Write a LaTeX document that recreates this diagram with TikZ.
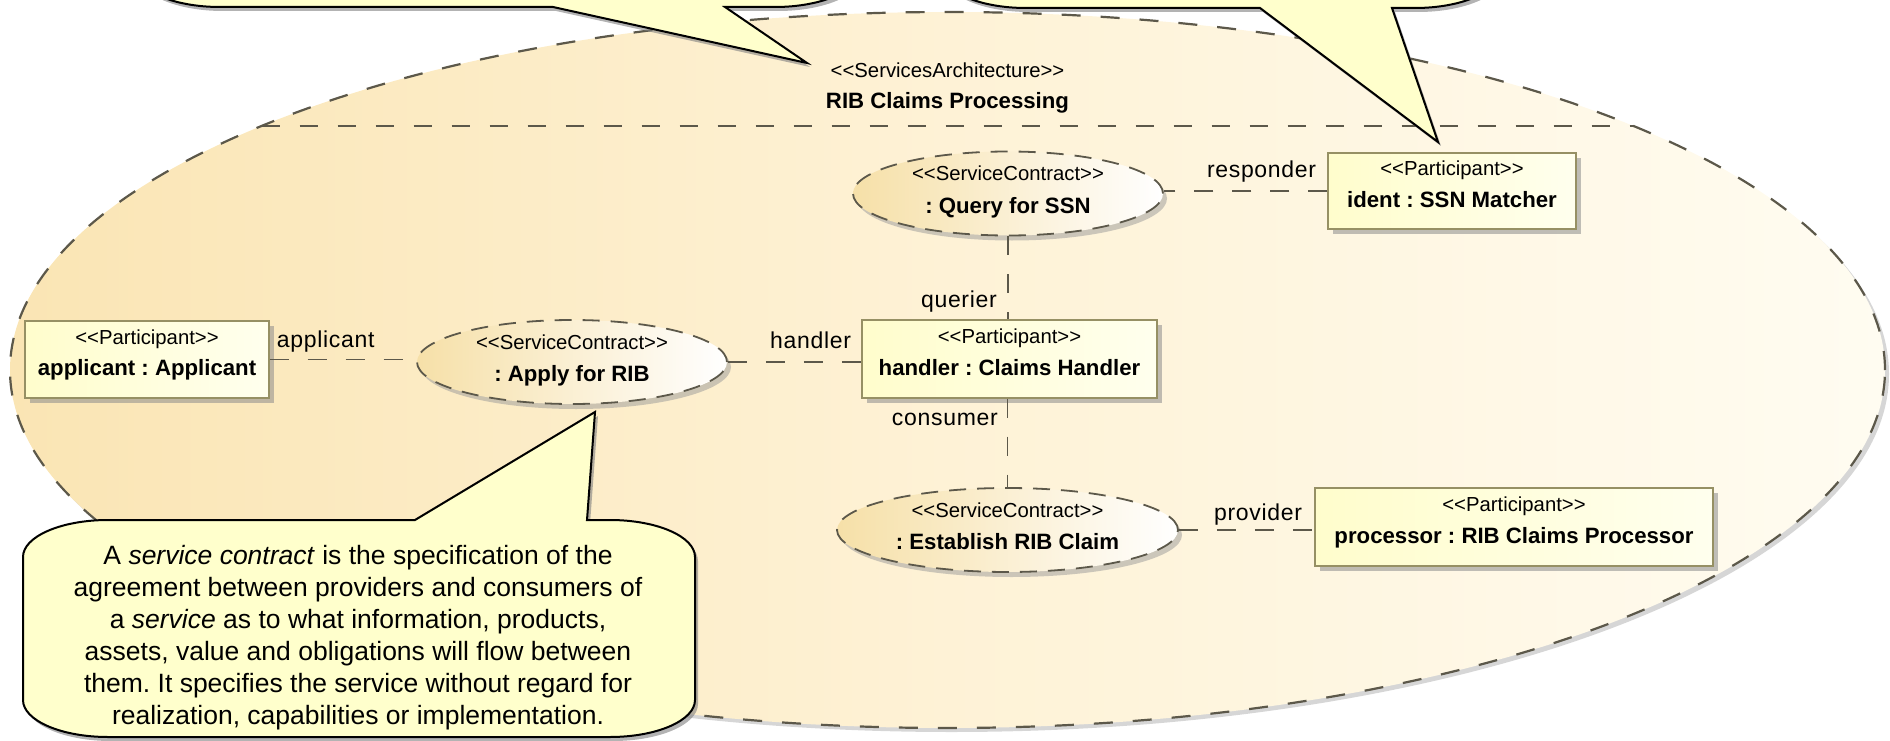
\documentclass[tikz,border=0pt]{standalone}
\usepackage{fontspec}
\usetikzlibrary{shapes.geometric,shadows,calc}
\newfontfamily\arial{Liberation Sans}
\newfontfamily\rolefont[LetterSpace=3]{Liberation Sans}
\frenchspacing

\definecolor{archL}{RGB}{250,229,180}
\definecolor{archM}{RGB}{254,242,214}
\definecolor{archR}{RGB}{255,252,241}
\definecolor{dashgray}{RGB}{92,88,74}
\definecolor{scL}{RGB}{246,224,168}
\definecolor{boxL}{RGB}{255,253,204}
\definecolor{boxR}{RGB}{255,255,238}
\definecolor{boxline}{RGB}{150,144,100}
\definecolor{notefill}{RGB}{255,255,204}

\tikzset{
  arch/.style={ellipse, inner sep=0pt, minimum width=1875pt, minimum height=716pt,
    left color=archL, right color=archR, middle color=archM,
    draw=dashgray, line width=2.2pt, dash pattern=on 19pt off 20pt,
    drop shadow={shadow xshift=4pt, shadow yshift=-4pt, fill=black!40, opacity=.4}},
  divider/.style={draw=dashgray, line width=2.2pt, dash pattern=on 18pt off 20pt},
  contract/.style={ellipse, inner sep=0pt, minimum width=310pt, minimum height=84pt,
    left color=scL, right color=white,
    draw=dashgray, line width=1.8pt, dash pattern=on 17pt off 11pt,
    drop shadow={shadow xshift=4pt, shadow yshift=-5pt, fill=black!40, opacity=.5}},
  part/.style={rectangle, inner sep=0pt, draw=boxline, line width=1.4pt,
    left color=boxL, right color=boxR,
    drop shadow={shadow xshift=5pt, shadow yshift=-5pt, fill=black!45, opacity=.55}},
  conn/.style={draw=dashgray, line width=1.6pt, dash pattern=on 19pt off 19pt},
  st/.style={font=\arial\fontsize{20.3}{24}\selectfont, inner sep=0pt, anchor=base},
  nm/.style={font=\arial\bfseries\fontsize{22.2}{26}\selectfont, inner sep=0pt, anchor=base},
  role/.style={font=\rolefont\fontsize{23}{27}\selectfont, inner sep=0pt},
  note/.style={draw=black, line width=2pt, fill=notefill,
    drop shadow={shadow xshift=3pt, shadow yshift=-4pt, fill=black!50, opacity=.6}},
  notetxt/.style={font=\arial\fontsize{26.5}{32}\selectfont, align=center, inner sep=0pt}
}

\begin{document}
\begin{tikzpicture}[x=1pt,y=-1pt]
\useasboundingbox (0,0) rectangle (1890,741);

% services architecture with its name compartment
\node[arch] (arch) at (947.5,370) {};
\coordinate (divL) at (261.5,126);
\coordinate (divR) at (1633.5,126);
\draw[divider] (divL) -- (divR);
\node[st] (archst) at (947.5,78) {<<ServicesArchitecture>>};
\node[nm] (archnm) at (947.5,109) {RIB Claims Processing};

% service contracts
\node[contract] (query) at (1008,193.5) {};
\node[contract] (apply) at (572,362) {};
\node[contract, minimum width=341pt] (establish) at (1007.5,530) {};
\foreach \c/\n in {query/: Query for SSN, apply/: Apply for RIB, establish/: Establish RIB Claim}{
  \node[st] (\c st) at ([shift={(0,-13)}]\c.center) {<<ServiceContract>>};
  \node[nm] (\c nm) at ([shift={(0,19.5)}]\c.center) {\n};
}

% participants
\node[part, minimum width=244pt, minimum height=77pt] (applicant) at (147,359.5) {};
\node[part, minimum width=295pt, minimum height=78pt] (handler) at (1009.5,359) {};
\node[part, minimum width=248pt, minimum height=76pt] (ident) at (1452,191) {};
\node[part, minimum width=398pt, minimum height=78pt] (processor) at (1514,527) {};
\foreach \p/\n in {applicant/applicant : Applicant, handler/handler : Claims Handler,
                   ident/ident : SSN Matcher, processor/processor : RIB Claims Processor}{
  \node[st] (\p st) at ([shift={(0,-15.5)}]\p.center) {<<Participant>>};
  \node[nm] (\p nm) at ([shift={(0,16)}]\p.center) {\n};
}

% role connectors
\draw[conn] (applicant.east) -- (applicant.east -| apply.west);
\draw[conn] (apply.east) -- (apply.east -| handler.west);
\draw[conn] (ident.west) -- (ident.west -| query.east);
\draw[conn] (query.south) -- (query.south |- handler.north);
\draw[conn] (handler.south -| establish.north) -- (establish.north);
\draw[conn] (establish.east) -- (establish.east -| processor.west);

% role names
\node[role, anchor=base west] (rapplicant) at ([shift={(7,-12.5)}]applicant.east) {applicant};
\node[role, anchor=base east] (rhandler) at ([shift={(-10,-11)}]handler.west) {handler};
\node[role, anchor=base east] (rquerier) at ([shift={(-12.5,-12)}]handler.north) {querier};
\node[role, anchor=base east] (rconsumer) at ([shift={(-11.5,27)}]handler.south) {consumer};
\node[role, anchor=base east] (rresponder) at ([shift={(-11,-13)}]ident.west) {responder};
\node[role, anchor=base east] (rprovider) at ([shift={(-12,-7)}]processor.west) {provider};

% callouts
\draw[note] (135,-163) arc[start angle=180,end angle=270,x radius=85,y radius=37]
  -- (775,-200) arc[start angle=270,end angle=360,x radius=85,y radius=37]
  -- (860,-30) arc[start angle=0,end angle=90,x radius=85,y radius=37]
  -- (725,7) -- (807,63) -- (553,7) -- (220,7)
  arc[start angle=90,end angle=180,x radius=85,y radius=37] -- cycle;

\draw[note] (941,-163) arc[start angle=180,end angle=270,x radius=85,y radius=37]
  -- (1415,-200) arc[start angle=270,end angle=360,x radius=85,y radius=37]
  -- (1500,-29) arc[start angle=0,end angle=90,x radius=85,y radius=37]
  -- (1392,8) -- (1438,142) -- (1260,8) -- (1026,8)
  arc[start angle=90,end angle=180,x radius=85,y radius=37] -- cycle;

\draw[note] (23,557) arc[start angle=180,end angle=270,x radius=85,y radius=37]
  -- (415,520) -- (595,412) -- (587,520) -- (610,520)
  arc[start angle=270,end angle=360,x radius=85,y radius=37]
  -- (695,700) arc[start angle=0,end angle=90,x radius=85,y radius=37]
  -- (108,737) arc[start angle=90,end angle=180,x radius=85,y radius=37] -- cycle;

\node[notetxt, anchor=north] (notetext) at (358,545) {A \textit{service contract} is the specification of the\\
agreement between providers and consumers of\\
a \textit{service} as to what information, products,\\
assets, value and obligations will flow between\\
them. It specifies the service without regard for\\
realization, capabilities or implementation.};
\end{tikzpicture}
\end{document}
